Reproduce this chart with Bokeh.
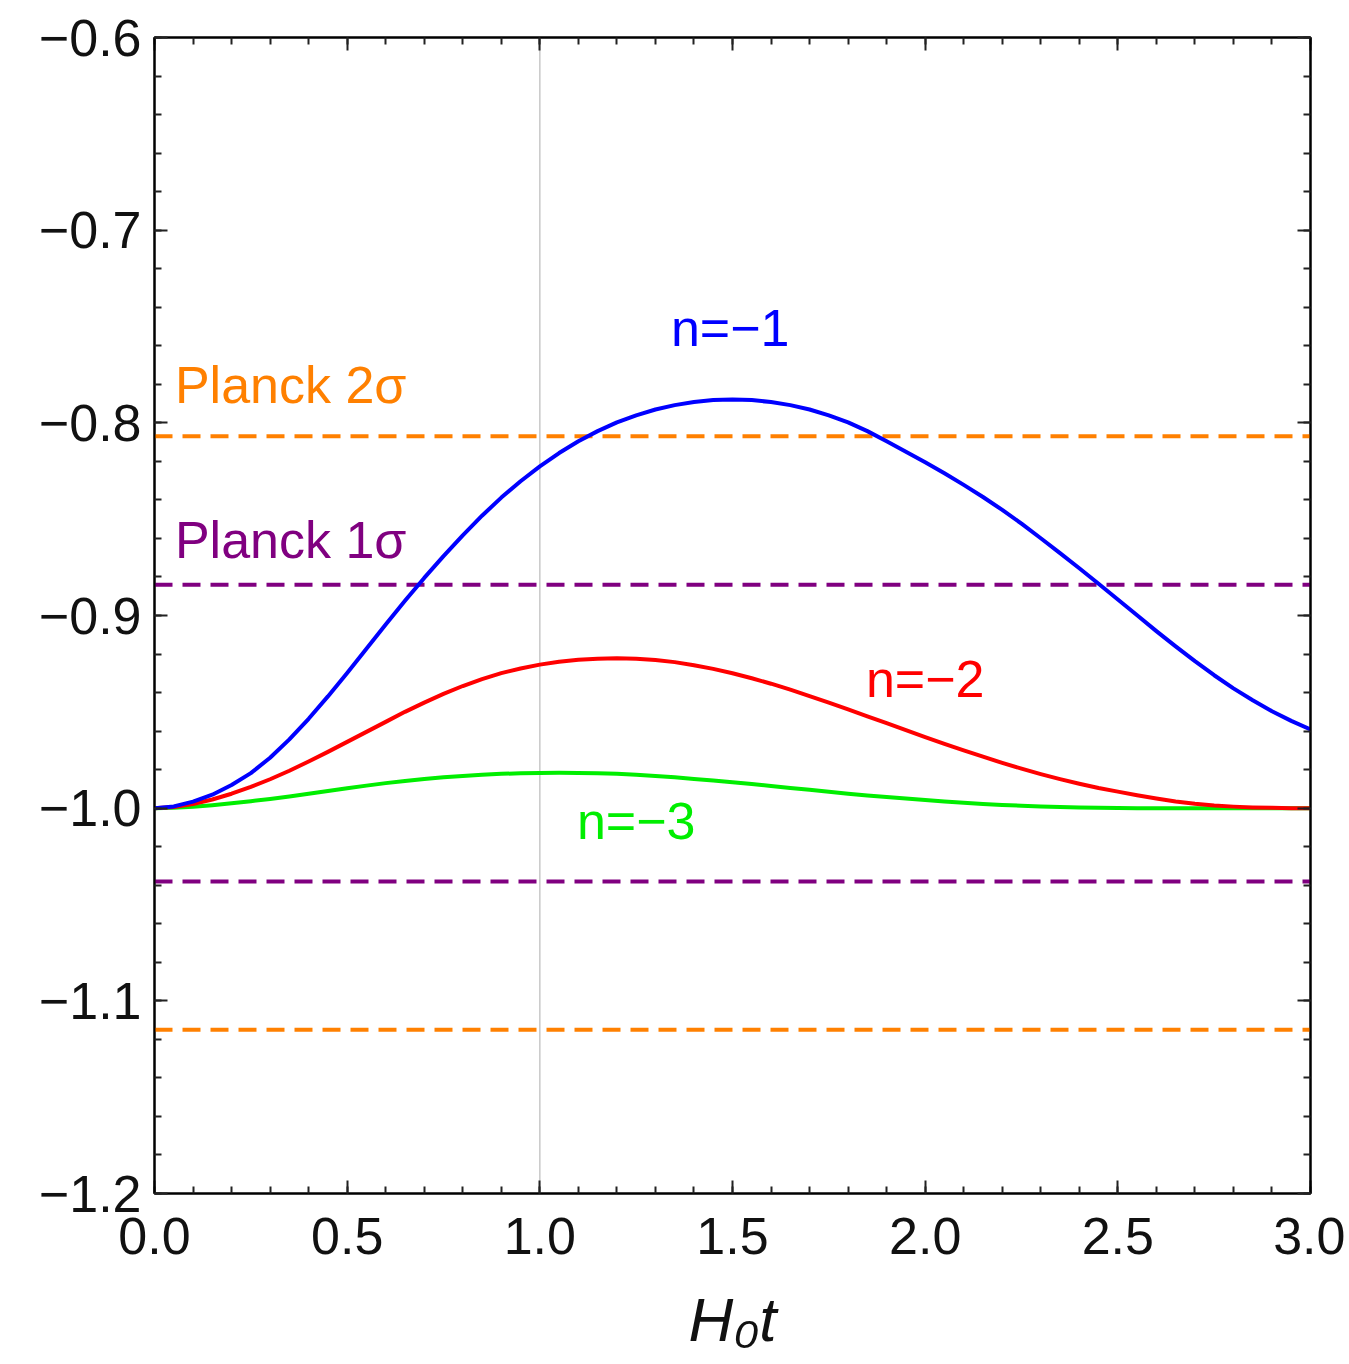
from bokeh.plotting import figure
from bokeh.models import FixedTicker, LinearAxis, Span, Range1d, ColumnDataSource
from bokeh.core.properties import value
from bokeh.embed import file_html
from bokeh.resources import INLINE

# ---------------- data ----------------
t = [0.00, 0.05, 0.10, 0.15, 0.20, 0.25, 0.30, 0.35, 0.40, 0.45,
     0.50, 0.55, 0.60, 0.65, 0.70, 0.75, 0.80, 0.85, 0.90, 0.95,
     1.00, 1.05, 1.10, 1.15, 1.20, 1.25, 1.30, 1.35, 1.40, 1.45,
     1.50, 1.55, 1.60, 1.65, 1.70, 1.75, 1.80, 1.85, 1.90, 1.95,
     2.00, 2.05, 2.10, 2.15, 2.20, 2.25, 2.30, 2.35, 2.40, 2.45,
     2.50, 2.55, 2.60, 2.65, 2.70, 2.75, 2.80, 2.85, 2.90, 2.95,
     3.00]

w_n1 = [-1.0000, -0.9991, -0.9966, -0.9930, -0.9880, -0.9818, -0.9738, -0.9643, -0.9536, -0.9420,
        -0.9298, -0.9173, -0.9047, -0.8924, -0.8805, -0.8692, -0.8584, -0.8482, -0.8388, -0.8303,
        -0.8226, -0.8157, -0.8096, -0.8043, -0.7998, -0.7961, -0.7931, -0.7908, -0.7892, -0.7882,
        -0.7879, -0.7882, -0.7892, -0.7908, -0.7931, -0.7961, -0.7998, -0.8043, -0.8096, -0.8150,
        -0.8205, -0.8262, -0.8322, -0.8385, -0.8452, -0.8523, -0.8599, -0.8676, -0.8755, -0.8835,
        -0.8917, -0.8999, -0.9081, -0.9160, -0.9237, -0.9310, -0.9378, -0.9440, -0.9497, -0.9547,
        -0.9591]

w_n2 = [-1.0000, -0.9994, -0.9978, -0.9955, -0.9925, -0.9890, -0.9850, -0.9806, -0.9758, -0.9708,
        -0.9656, -0.9604, -0.9552, -0.9500, -0.9452, -0.9407, -0.9366, -0.9330, -0.9299, -0.9275,
        -0.9255, -0.9240, -0.9230, -0.9224, -0.9222, -0.9224, -0.9231, -0.9242, -0.9258, -0.9277,
        -0.9300, -0.9326, -0.9354, -0.9385, -0.9418, -0.9452, -0.9487, -0.9523, -0.9559, -0.9595,
        -0.9631, -0.9666, -0.9700, -0.9733, -0.9765, -0.9795, -0.9823, -0.9849, -0.9873, -0.9895,
        -0.9914, -0.9933, -0.9950, -0.9965, -0.9977, -0.9986, -0.9992, -0.9996, -0.9998, -1.0000,
        -1.0000]

w_n3 = [-1.0000, -0.9998, -0.9993, -0.9985, -0.9975, -0.9964, -0.9952, -0.9939, -0.9925, -0.9911,
        -0.9897, -0.9883, -0.9870, -0.9859, -0.9849, -0.9840, -0.9833, -0.9827, -0.9822, -0.9819,
        -0.9817, -0.9816, -0.9817, -0.9819, -0.9822, -0.9827, -0.9833, -0.9840, -0.9848, -0.9856,
        -0.9865, -0.9875, -0.9885, -0.9895, -0.9905, -0.9915, -0.9925, -0.9934, -0.9942, -0.9950,
        -0.9958, -0.9965, -0.9972, -0.9978, -0.9983, -0.9987, -0.9991, -0.9994, -0.9996, -0.9998,
        -0.9999, -1.0000, -1.0000, -1.0000, -1.0000, -1.0000, -1.0000, -1.0000, -1.0000, -1.0000,
        -1.0000]

planck_1sigma = [-0.884, -1.038]
planck_2sigma = [-0.807, -1.115]
today = 1.0

x_ticks = [0.0, 0.5, 1.0, 1.5, 2.0, 2.5, 3.0]
x_tick_labels = ["0.0", "0.5", "1.0", "1.5", "2.0", "2.5", "3.0"]
y_ticks = [-1.2, -1.1, -1.0, -0.9, -0.8, -0.7, -0.6]
y_tick_labels = ["\u22121.2", "\u22121.1", "\u22121.0", "\u22120.9", "\u22120.8", "\u22120.7", "\u22120.6"]
x_title = "H\u2080t"

curve_labels = ["n=\u22121", "n=\u22122", "n=\u22123"]
curve_label_x = [1.494, 2.0, 1.25]
curve_label_y = [-0.7509, -0.9327, -1.0065]
curve_colors = ["#0000ff", "#ff0000", "#00ee00"]

band_labels = ["Planck 2\u03c3", "Planck 1\u03c3"]
band_label_x = [0.053, 0.053]
band_label_y = [-0.7805, -0.861]
band_colors = ["#ff8000", "#800080"]

FONT = "Liberation Sans"

# ---------------- figure ----------------
p = figure(width=1345, height=1358,
           x_range=Range1d(0, 3), y_range=Range1d(-1.2, -0.6),
           output_backend="svg", toolbar_location=None,
           min_border_left=154, min_border_right=35,
           min_border_top=37, min_border_bottom=165)
p.background_fill_color = "white"
p.border_fill_color = "white"
p.xgrid.visible = False
p.ygrid.visible = False
p.outline_line_color = "black"
p.outline_line_width = 2

x_minor = [round(i * 0.1, 2) for i in range(0, 31)]
y_minor = [round(-1.2 + i * 0.02, 3) for i in range(0, 31)]
xt = FixedTicker(ticks=x_ticks, minor_ticks=x_minor)
yt = FixedTicker(ticks=y_ticks, minor_ticks=y_minor)


def style_axis(ax, ticker, labels, ticks, show_labels):
    ax.ticker = ticker
    ax.axis_line_color = "black"
    ax.axis_line_width = 2
    ax.major_tick_in = 13
    ax.major_tick_out = 0
    ax.minor_tick_in = 7
    ax.minor_tick_out = 0
    ax.major_tick_line_width = 2
    ax.minor_tick_line_width = 2
    ax.major_tick_line_color = "#222222"
    ax.minor_tick_line_color = "#222222"
    if show_labels:
        ax.major_label_overrides = {tk: lb for tk, lb in zip(ticks, labels)}
        ax.major_label_text_font = FONT
        ax.major_label_text_font_size = "52px"
        ax.major_label_text_color = "#111111"
    else:
        ax.major_label_overrides = {tk: "" for tk in ticks}
        ax.major_label_text_font_size = "0px"
        ax.major_label_standoff = 0


style_axis(p.xaxis[0], xt, x_tick_labels, x_ticks, True)
style_axis(p.yaxis[0], yt, y_tick_labels, y_ticks, True)
p.xaxis[0].major_label_standoff = 24
p.yaxis[0].major_label_standoff = 13
p.xaxis[0].axis_label = x_title
p.xaxis[0].axis_label_text_font = FONT
p.xaxis[0].axis_label_text_font_size = "62px"
p.xaxis[0].axis_label_text_font_style = "italic"
p.xaxis[0].axis_label_text_color = "#111111"
p.xaxis[0].axis_label_standoff = 28

top_ax = LinearAxis()
right_ax = LinearAxis()
style_axis(top_ax, xt, x_tick_labels, x_ticks, False)
style_axis(right_ax, yt, y_tick_labels, y_ticks, False)
p.add_layout(top_ax, "above")
p.add_layout(right_ax, "right")

# reference lines
p.add_layout(Span(location=today, dimension="height", line_color="#c8c8c8",
                  line_width=1.5, level="underlay"))
for loc in planck_2sigma:
    p.add_layout(Span(location=loc, dimension="width", line_color=band_colors[0],
                      line_width=4, line_dash="18 10", level="underlay"))
for loc in planck_1sigma:
    p.add_layout(Span(location=loc, dimension="width", line_color=band_colors[1],
                      line_width=4, line_dash="18 10", level="underlay"))

# curves
for ys, c in zip([w_n3, w_n2, w_n1], [curve_colors[2], curve_colors[1], curve_colors[0]]):
    p.line(t, ys, line_color=c, line_width=4, line_join="round")

# curve labels
src_c = ColumnDataSource(dict(x=curve_label_x, y=curve_label_y, text=curve_labels, color=curve_colors))
p.text(x="x", y="y", text="text", source=src_c, text_color="color",
       text_font=value(FONT), text_font_size="52px",
       text_align="center", text_baseline="middle")

src_b = ColumnDataSource(dict(x=band_label_x, y=band_label_y, text=band_labels, color=band_colors))
p.text(x="x", y="y", text="text", source=src_b, text_color="color",
       text_font=value(FONT), text_font_size="52px",
       text_align="left", text_baseline="middle")

open("out.html", "w").write(file_html(p, INLINE))
